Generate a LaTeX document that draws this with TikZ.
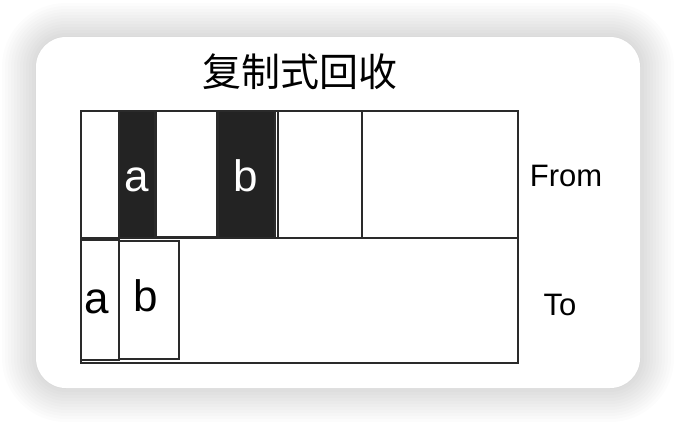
\documentclass[tikz,border=0pt]{standalone}
\usepackage{fontspec}
\setmainfont{Liberation Sans}
\newfontfamily\cjk{Noto Sans CJK SC}
\definecolor{cellfill}{HTML}{232323}
\definecolor{edge}{HTML}{2A2A2A}
\begin{document}
\begin{tikzpicture}[x=1pt,y=-1pt,
  cell/.style={draw=edge,line width=1.8pt,anchor=north west,inner sep=0pt,fill=white},
  darkcell/.style={cell,fill=cellfill,text=white},
  lbl/.style={font=\fontsize{44}{44}\selectfont},
  side/.style={font=\fontsize{31}{31}\selectfont}]
\useasboundingbox (0,0) rectangle (676,424);
\fill[white] (0,0) rectangle (676,424);
% shadow
\foreach \d in {34,31,...,1}{
  \fill[black,opacity=0.011,rounded corners=30pt+\d pt] (36-\d,37-\d) rectangle (640+\d,388+\d);
}
\fill[white,rounded corners=30pt] (36,37) rectangle (640,388);
% title
\node (title) at (300,72) {\cjk\fontsize{39}{39}\selectfont 复制式回收};
% outer rows
\node[cell,minimum width=437pt,minimum height=127pt] (from) at (80,110) {};
\node[cell,minimum width=437pt,minimum height=125pt] (to) at (80,237) {};
% from cells
\node[cell,minimum width=38pt,minimum height=127pt] (f1) at (80,110) {};
\node[darkcell,minimum width=36pt,minimum height=127pt] (fa) at (118,110) {};
\node[cell,minimum width=61pt,minimum height=126pt] (f3) at (155,110) {};
\node[darkcell,minimum width=57pt,minimum height=127pt] (fb) at (217,110) {};
\node[cell,minimum width=84pt,minimum height=127pt] (f5) at (277,110) {};
\node[lbl,text=white,anchor=base] (fat) at (137,191) {a};
\node[lbl,text=white,anchor=base] (fbt) at (246,191) {b};
% to cells
\node[cell,minimum width=38pt,minimum height=120pt] (ta) at (80,239) {};
\node[cell,minimum width=60pt,minimum height=118pt] (tb) at (118,240) {};
\node[lbl,anchor=base] (tat) at (97,313) {a};
\node[lbl,anchor=base] (tbt) at (146,311) {b};
% side labels
\node[side] (fromlbl) at (566,176) {From};
\node[side] (tolbl) at (560,305) {To};
\end{tikzpicture}
\end{document}
